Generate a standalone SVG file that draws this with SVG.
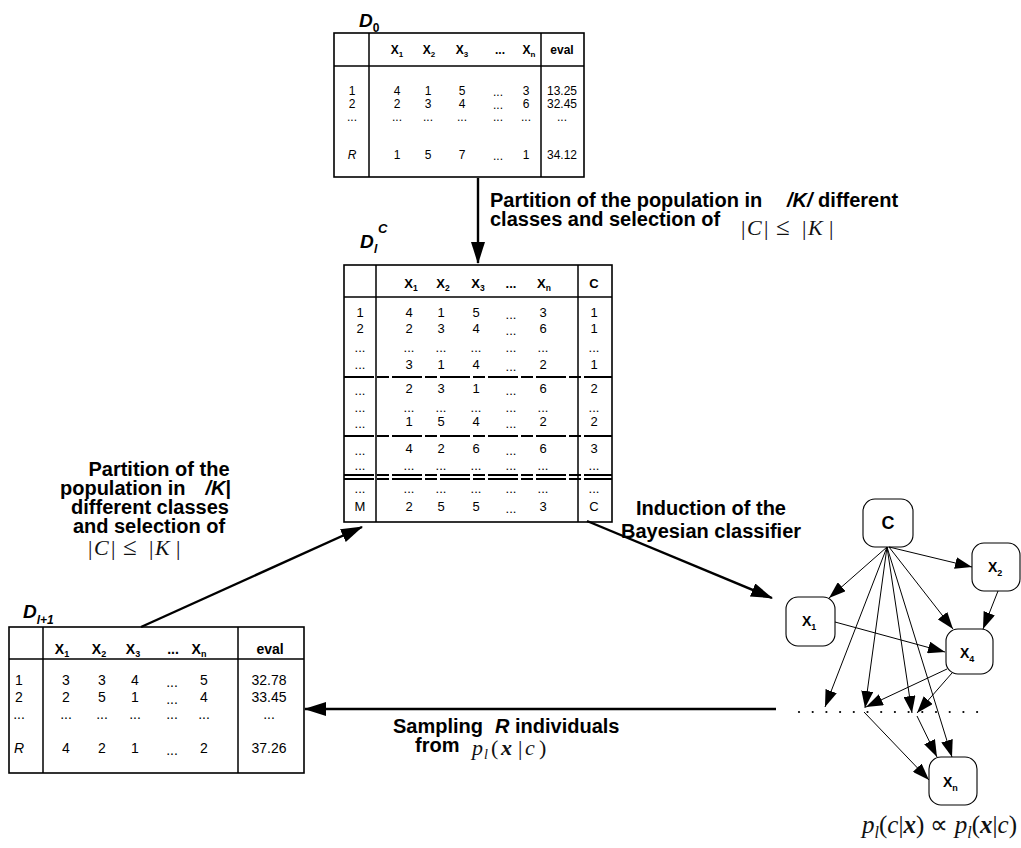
<svg xmlns="http://www.w3.org/2000/svg" width="1021" height="848" viewBox="0 0 1021 848">
<defs>
<marker id="big" markerUnits="userSpaceOnUse" markerWidth="22" markerHeight="14" refX="21" refY="7" orient="auto" viewBox="0 0 22 14"><path d="M0,0 L22,7 L0,14 z" fill="#000"/></marker>
<marker id="small" markerUnits="userSpaceOnUse" markerWidth="17" markerHeight="12" refX="17" refY="6" orient="auto" viewBox="0 0 17 12"><path d="M0,0 L17,6 L0,12 z" fill="#000"/></marker>
</defs>
<style>
text{font-family:"Liberation Sans",Arial,sans-serif;fill:#000}
.b{font-weight:bold}
.bi{font-weight:bold;font-style:italic}
.i{font-style:italic}
.m{font-family:"Liberation Serif","Times New Roman",serif;fill:#111}
.mid{text-anchor:middle}
.tbl{fill:#fff;stroke:#000;stroke-width:1.6}
.ln{stroke:#000;stroke-width:1.5;fill:none}
.sep{stroke:#000;stroke-width:2;stroke-dasharray:30 3 12 3;fill:none}
.node{fill:#fff;stroke:#000;stroke-width:1.1}
.e{stroke:#000;stroke-width:1;fill:none;marker-end:url(#small)}
.big{stroke:#000;stroke-width:2.4;fill:none;marker-end:url(#big)}
.t20{font-size:20px;font-weight:bold}
</style>

<!-- Top table D0 -->
<g id="D0">
<text x="359" y="27" class="bi" font-size="19">D<tspan font-size="12" dy="5" font-style="normal">0</tspan></text>
<rect class="tbl" x="334" y="33" width="250" height="144"/>
<line class="ln" x1="369" y1="33" x2="369" y2="177"/>
<line class="ln" x1="541" y1="33" x2="541" y2="177"/>
<line class="ln" x1="334" y1="66" x2="584" y2="66"/>
<g class="b mid" font-size="12">
<text x="397" y="54">X<tspan font-size="8" dy="2.5">1</tspan></text>
<text x="429" y="54">X<tspan font-size="8" dy="2.5">2</tspan></text>
<text x="462" y="54">X<tspan font-size="8" dy="2.5">3</tspan></text>
<text x="500" y="54">...</text>
<text x="529" y="54">X<tspan font-size="8" dy="2.5">n</tspan></text>
<text x="562" y="54">eval</text>
</g>
<g class="mid" font-size="12">
<text x="352" y="95">1</text><text x="397" y="95">4</text><text x="428" y="95">1</text><text x="462" y="95">5</text><text x="498" y="96">...</text><text x="526" y="95">3</text><text x="562" y="95">13.25</text>
<text x="352" y="108">2</text><text x="397" y="108">2</text><text x="428" y="108">3</text><text x="462" y="108">4</text><text x="498" y="109">...</text><text x="526" y="108">6</text><text x="562" y="108">32.45</text>
<text x="352" y="121">...</text><text x="397" y="121">...</text><text x="428" y="121">...</text><text x="462" y="121">...</text><text x="498" y="121">...</text><text x="526" y="121">...</text><text x="562" y="121">...</text>
<text x="352" y="159" class="i">R</text><text x="397" y="159">1</text><text x="428" y="159">5</text><text x="462" y="159">7</text><text x="498" y="160">...</text><text x="526" y="159">1</text><text x="562" y="159">34.12</text>
</g>
</g>

<!-- Middle table D_l^C -->
<g id="DlC">
<text x="360" y="248" class="bi" font-size="19">D</text>
<text x="374" y="253" class="bi" font-size="12">l</text>
<text x="378" y="233" class="bi" font-size="13">C</text>
<rect class="tbl" x="344" y="265" width="268" height="257"/>
<line class="ln" x1="376" y1="265" x2="376" y2="522"/>
<line class="ln" x1="578" y1="265" x2="578" y2="522"/>
<line class="ln" x1="344" y1="297" x2="612" y2="297"/>
<g class="b mid" font-size="13">
<text x="411" y="288">X<tspan font-size="8.5" dy="2.5">1</tspan></text>
<text x="443" y="288">X<tspan font-size="8.5" dy="2.5">2</tspan></text>
<text x="478" y="288">X<tspan font-size="8.5" dy="2.5">3</tspan></text>
<text x="511" y="288">...</text>
<text x="544" y="288">X<tspan font-size="8.5" dy="2.5">n</tspan></text>
<text x="594" y="288">C</text>
</g>
<g class="mid" font-size="13">
<text x="360" y="317">1</text><text x="409" y="317">4</text><text x="441" y="317">1</text><text x="476" y="317">5</text><text x="511" y="319">...</text><text x="543" y="317">3</text><text x="594" y="317">1</text>
<text x="360" y="333">2</text><text x="409" y="333">2</text><text x="441" y="333">3</text><text x="476" y="333">4</text><text x="511" y="335">...</text><text x="543" y="333">6</text><text x="594" y="333">1</text>
<text x="360" y="352">...</text><text x="409" y="352">...</text><text x="441" y="352">...</text><text x="476" y="352">...</text><text x="511" y="352">...</text><text x="543" y="352">...</text><text x="594" y="352">...</text>
<text x="360" y="369">...</text><text x="409" y="369">3</text><text x="441" y="369">1</text><text x="476" y="369">4</text><text x="511" y="371">...</text><text x="543" y="369">2</text><text x="594" y="369">1</text>
<text x="360" y="395">...</text><text x="409" y="393">2</text><text x="441" y="393">3</text><text x="476" y="393">1</text><text x="511" y="395">...</text><text x="543" y="393">6</text><text x="594" y="393">2</text>
<text x="360" y="412">...</text><text x="409" y="412">...</text><text x="441" y="412">...</text><text x="476" y="412">...</text><text x="511" y="412">...</text><text x="543" y="412">...</text><text x="594" y="412">...</text>
<text x="360" y="428">...</text><text x="409" y="426">1</text><text x="441" y="426">5</text><text x="476" y="426">4</text><text x="511" y="428">...</text><text x="543" y="426">2</text><text x="594" y="426">2</text>
<text x="360" y="455">...</text><text x="409" y="453">4</text><text x="441" y="453">2</text><text x="476" y="453">6</text><text x="511" y="455">...</text><text x="543" y="453">6</text><text x="594" y="453">3</text>
<text x="360" y="470">...</text><text x="409" y="470">...</text><text x="441" y="470">...</text><text x="476" y="470">...</text><text x="511" y="470">...</text><text x="543" y="470">...</text><text x="594" y="470">...</text>
<text x="360" y="493">...</text><text x="409" y="493">...</text><text x="441" y="493">...</text><text x="476" y="493">...</text><text x="511" y="493">...</text><text x="543" y="493">...</text><text x="594" y="493">...</text>
<text x="360" y="511">M</text><text x="409" y="511">2</text><text x="441" y="511">5</text><text x="476" y="511">5</text><text x="511" y="513">...</text><text x="543" y="511">3</text><text x="594" y="511">C</text>
</g>
<path class="sep" d="M344,377 H612 M344,436 H612 M344,475 H612 M344,479 H612"/>
</g>

<!-- Bottom-left table D_{l+1} -->
<g id="Dl1">
<text x="23" y="618" class="bi" font-size="19">D<tspan font-size="12" dy="6">l+1</tspan></text>
<rect class="tbl" x="9" y="627" width="295" height="146" stroke-width="2"/>
<line class="ln" x1="43" y1="627" x2="43" y2="773" stroke-width="2"/>
<line class="ln" x1="238" y1="627" x2="238" y2="773" stroke-width="2"/>
<line class="ln" x1="9" y1="659" x2="304" y2="659" stroke-width="2"/>
<g class="b mid" font-size="14">
<text x="62" y="654">X<tspan font-size="9" dy="2.5">1</tspan></text>
<text x="99" y="654">X<tspan font-size="9" dy="2.5">2</tspan></text>
<text x="133" y="654">X<tspan font-size="9" dy="2.5">3</tspan></text>
<text x="173" y="654">...</text>
<text x="199" y="654">X<tspan font-size="9" dy="2.5">n</tspan></text>
<text x="270" y="654">eval</text>
</g>
<g class="mid" font-size="14">
<text x="19" y="685">1</text><text x="66" y="685">3</text><text x="102" y="685">3</text><text x="135" y="685">4</text><text x="172" y="687">...</text><text x="204" y="685">5</text><text x="269" y="685">32.78</text>
<text x="19" y="702">2</text><text x="66" y="702">2</text><text x="102" y="702">5</text><text x="135" y="702">1</text><text x="172" y="704">...</text><text x="204" y="702">4</text><text x="269" y="702">33.45</text>
<text x="19" y="719">...</text><text x="66" y="719">...</text><text x="102" y="719">...</text><text x="135" y="719">...</text><text x="172" y="719">...</text><text x="204" y="719">...</text><text x="269" y="719">...</text>
<text x="19" y="753" class="i">R</text><text x="66" y="753">4</text><text x="102" y="753">2</text><text x="135" y="753">1</text><text x="172" y="755">...</text><text x="204" y="753">2</text><text x="269" y="753">37.26</text>
</g>
</g>

<!-- Bayesian network nodes -->
<g id="nodeC"><rect class="node" x="863" y="499" width="50" height="48" rx="12"/><text x="888" y="529" class="b mid" font-size="18">C</text></g>
<g id="nodeX2"><rect class="node" x="972" y="543" width="48" height="48" rx="12"/><text x="988" y="572" class="b" font-size="14">X<tspan font-size="9" dy="4">2</tspan></text></g>
<g id="nodeX1"><rect class="node" x="786" y="597" width="49" height="49" rx="12"/><text x="802" y="626" class="b" font-size="14">X<tspan font-size="9" dy="4">1</tspan></text></g>
<g id="nodeX4"><rect class="node" x="946" y="629" width="47" height="45" rx="12"/><text x="960" y="658" class="b" font-size="14">X<tspan font-size="9" dy="4">4</tspan></text></g>
<g id="nodeXn"><rect class="node" x="929" y="757" width="48" height="48" rx="12"/><text x="943" y="787" class="b" font-size="14">X<tspan font-size="9" dy="4">n</tspan></text></g>
<g id="dots" fill="#000">
<circle cx="799" cy="712" r="1.1"/><circle cx="812.7" cy="712" r="1.1"/><circle cx="826.4" cy="712" r="1.1"/><circle cx="840.1" cy="712" r="1.1"/><circle cx="853.8" cy="712" r="1.1"/><circle cx="867.5" cy="712" r="1.1"/><circle cx="881.2" cy="712" r="1.1"/><circle cx="894.9" cy="712" r="1.1"/><circle cx="908.6" cy="712" r="1.1"/><circle cx="922.3" cy="712" r="1.1"/><circle cx="936" cy="712" r="1.1"/><circle cx="949.7" cy="712" r="1.1"/><circle cx="963.4" cy="712" r="1.1"/><circle cx="977.1" cy="712" r="1.1"/>
</g>

<!-- Connectors -->
<g id="connectors">
<line class="big" x1="478" y1="178" x2="478" y2="263"/>
<line class="big" x1="141" y1="627" x2="362" y2="527"/>
<line class="big" x1="587" y1="521" x2="772" y2="598"/>
<line class="big" x1="776" y1="709" x2="305" y2="709"/>
<line class="e" x1="887" y1="547" x2="829" y2="598"/>
<line class="e" x1="889" y1="547" x2="972" y2="567"/>
<line class="e" x1="889" y1="547" x2="953" y2="629"/>
<line class="e" x1="887" y1="547" x2="825" y2="707"/>
<line class="e" x1="887" y1="547" x2="865" y2="708"/>
<line class="e" x1="887" y1="547" x2="912" y2="713"/>
<line class="e" x1="887" y1="547" x2="952" y2="757"/>
<line class="e" x1="835" y1="622" x2="945" y2="652"/>
<line class="e" x1="998" y1="591" x2="983" y2="629"/>
<line class="e" x1="947" y1="669" x2="866" y2="707"/>
<line class="e" x1="952" y1="673" x2="917" y2="713"/>
<line class="e" x1="917" y1="716" x2="937" y2="757"/>
<line class="e" x1="864" y1="712" x2="929" y2="780"/>
</g>

<!-- Labels -->
<g id="labels">
<text x="490" y="207" class="t20">Partition of the population in<tspan x="787" class="bi">/K/</tspan> different</text>
<text x="490" y="226" class="t20">classes and selection of</text>
<text class="m" font-size="22" y="235"><tspan x="741">|</tspan><tspan x="747" class="i">C</tspan><tspan x="764">|</tspan><tspan x="776" font-size="25">≤</tspan><tspan x="802">|</tspan><tspan x="808" class="i">K</tspan><tspan x="829">|</tspan></text>

<text x="159" y="476" class="t20 mid">Partition of the</text>
<text x="60" y="495" class="t20">population in<tspan dx="20" class="bi">/K</tspan>|</text>
<text x="150" y="514" class="t20 mid">different classes</text>
<text x="149" y="533" class="t20 mid">and selection of</text>
<text class="m" font-size="22" y="555"><tspan x="88">|</tspan><tspan x="94" class="i">C</tspan><tspan x="111">|</tspan><tspan x="123" font-size="25">≤</tspan><tspan x="149">|</tspan><tspan x="155" class="i">K</tspan><tspan x="176">|</tspan></text>

<text x="711" y="515" class="t20 mid">Induction of the</text>
<text x="711" y="538" class="t20 mid">Bayesian classifier</text>

<text x="393" y="733" class="t20">Sampling<tspan dx="12" class="bi">R</tspan> individuals</text>
<text x="415" y="752" class="t20">from</text>
<text class="m" font-size="22" y="755"><tspan x="472" class="i">p</tspan><tspan x="484" dy="4" class="i" font-size="14">l</tspan><tspan x="491" dy="-4">(</tspan><tspan x="501" class="bi">x</tspan><tspan x="518">|</tspan><tspan x="525" class="i">c</tspan><tspan x="539">)</tspan></text>

<text x="862" y="833" class="m" font-size="25"><tspan class="i">p</tspan><tspan class="i" font-size="16" dy="5">l</tspan><tspan dy="-5">(</tspan><tspan class="i">c</tspan>|<tspan class="bi">x</tspan>) ∝ <tspan class="i">p</tspan><tspan class="i" font-size="16" dy="5">l</tspan><tspan dy="-5">(</tspan><tspan class="bi">x</tspan>|<tspan class="i">c</tspan>)</text>
</g>
</svg>
